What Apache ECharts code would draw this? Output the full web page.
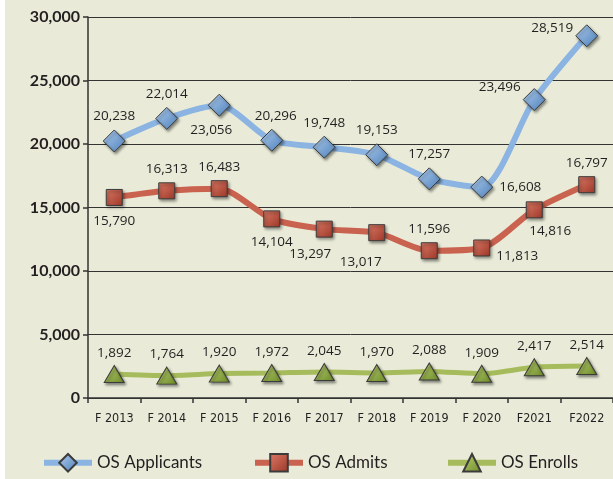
<!DOCTYPE html>
<html>
<head>
<meta charset="utf-8">
<script src="https://cdn.jsdelivr.net/npm/echarts@6/dist/echarts.min.js"></script>
<style>
  html, body { margin: 0; padding: 0; background: #fff; }
  #chart { position: absolute; left: 5px; top: 0; width: 608px; height: 479px; background: #e9ebd8; }
</style>
</head>
<body>
<div id="chart"></div>
<script>
var years = ['F 2013', 'F 2014', 'F 2015', 'F 2016', 'F 2017', 'F 2018', 'F 2019', 'F 2020', 'F2021', 'F2022'];
var applicants = [20238, 22014, 23056, 20296, 19748, 19153, 17257, 16608, 23496, 28519];
var admits = [15790, 16313, 16483, 14104, 13297, 13017, 11596, 11813, 14816, 16797];
var enrolls = [1892, 1764, 1920, 1972, 2045, 1970, 2088, 1909, 2417, 2514];
var yTicks = [0, 5000, 10000, 15000, 20000, 25000, 30000];

// where each value label sits next to its marker
var appPos = [['top', [0, 0]], ['top', [0, 0]], ['bottom', [-8, 0]], ['top', [4, 0]], ['top', [0, 0]],
              ['top', [0, 0]], ['top', [0, 0]], ['right', [0, 0]], ['left', [4, -12]], ['left', [4, -8]]];
var admPos = [['bottom', [0, 2]], ['top', [0, 0]], ['top', [0, 0]], ['bottom', [0, 2]], ['bottom', [-14, 4]],
              ['bottom', [-16, 8]], ['top', [0, 0]], ['right', [0, 8]], ['bottom', [16, 0]], ['top', [0, 0]]];

function fmt(v) { return v.toLocaleString('en-US'); }

function withLabels(values, pos) {
    return values.map(function (v, i) {
        return { value: v, label: { position: pos[i][0], offset: pos[i][1] } };
    });
}

function grad(c1, c2) {
    return new echarts.graphic.LinearGradient(0, 0, 1, 1, [
        { offset: 0, color: c1 }, { offset: 1, color: c2 }
    ]);
}

var labelStyle = {
    show: true,
    color: '#231f20',
    fontFamily: 'Open Sans',
    fontSize: 13.5,
    distance: 6,
    formatter: function (p) { return fmt(p.value); }
};

var markerShadow = { borderColor: '#3b3b3b', borderWidth: 1, shadowBlur: 3, shadowColor: 'rgba(0,0,0,0.45)', shadowOffsetX: 1.5, shadowOffsetY: 2 };

var myChart = echarts.init(document.getElementById('chart'));
var option = {
    animation: false,
    grid: { left: 83, right: 0, top: 17, bottom: 81 },
    legend: [
        { data: ['OS Applicants'], left: 31, top: 448 },
        { data: ['OS Admits'], left: 242, top: 448 },
        { data: ['OS Enrolls'], left: 435, top: 448 }
    ].map(function (l) {
        l.itemWidth = 48; l.itemHeight = 22; l.itemGap = 6;
        l.lineStyle = { width: 6 };
        l.textStyle = { fontFamily: 'Lato', fontSize: 17, color: '#231f20' };
        return l;
    }),
    xAxis: {
        type: 'category',
        data: years,
        boundaryGap: true,
        axisLine: { lineStyle: { color: '#333', width: 1.5 } },
        axisTick: { show: true, length: 5, lineStyle: { color: '#333', width: 1.5 } },
        axisLabel: { color: '#231f20', fontFamily: "'DejaVu Sans Condensed', 'Liberation Sans', sans-serif", fontSize: 12.5, margin: 14 }
    },
    yAxis: {
        type: 'value',
        min: yTicks[0],
        max: yTicks[yTicks.length - 1],
        interval: 5000,
        axisLine: { show: true, lineStyle: { color: '#333', width: 1.5 } },
        axisTick: { show: true, length: 5, lineStyle: { color: '#333', width: 1.5 } },
        splitLine: { lineStyle: { color: '#333', width: 1 } },
        axisLabel: {
            color: '#231f20', fontFamily: 'Lato', fontWeight: 'bold', fontSize: 16, margin: 8,
            formatter: function (v) { return fmt(v); }
        }
    },
    series: [
        {
            name: 'OS Applicants', type: 'line', smooth: 0.25,
            data: withLabels(applicants, appPos),
            symbol: 'diamond', symbolSize: [22, 22],
            lineStyle: { color: '#8bb4e2', width: 6 },
            itemStyle: Object.assign({ color: grad('#b3d0f0', '#4a7db8') }, markerShadow),
            label: labelStyle, z: 3
        },
        {
            name: 'OS Admits', type: 'line', smooth: 0.25,
            data: withLabels(admits, admPos),
            symbol: 'rect', symbolSize: 16,
            lineStyle: { color: '#c9624f', width: 6 },
            itemStyle: Object.assign({ color: grad('#db7a66', '#9c3627') }, markerShadow),
            label: labelStyle, z: 3
        },
        {
            name: 'OS Enrolls', type: 'line', smooth: 0.25,
            data: enrolls,
            symbol: 'triangle', symbolSize: [20, 17],
            lineStyle: { color: '#a6bb5b', width: 5 },
            itemStyle: Object.assign({ color: grad('#bdd277', '#6c8a26') }, markerShadow),
            label: Object.assign({}, labelStyle, { position: 'top', distance: 5 }), z: 3
        }
    ]
};
myChart.setOption(option);
</script>
</body>
</html>
